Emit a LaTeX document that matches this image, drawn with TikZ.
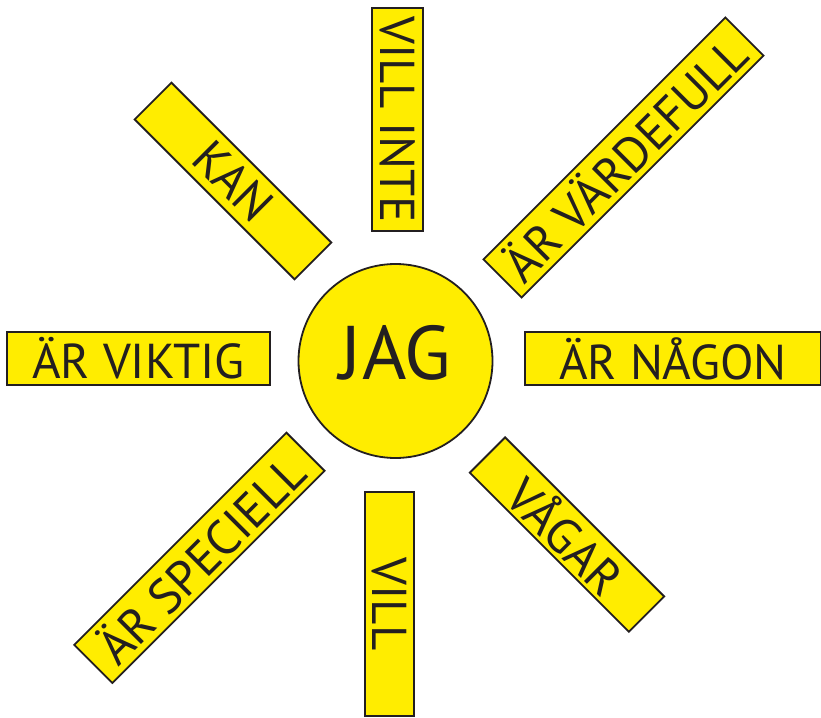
\documentclass[tikz,border=0pt]{standalone}
\usepackage{fontspec}
\setmainfont{PT Sans}
\usepackage{xcolor}
\usepackage{tikz}
\definecolor{solgul}{RGB}{255,237,0}
\definecolor{kontur}{RGB}{35,31,32}

\begin{document}
\begin{tikzpicture}[
  x=1pt, y=-1pt,
  sol/.style={
    circle, draw=kontur, fill=solgul, line width=1.8pt,
    minimum size=194pt, inner sep=0pt, text=kontur,
    font=\fontsize{76}{86}\selectfont
  },
  strale/.style={
    rectangle, draw=kontur, fill=solgul, line width=1.8pt,
    inner sep=0pt, minimum height=52pt, text=kontur,
    font=\fontsize{49}{56}\selectfont
  }
]
\useasboundingbox (0,0) rectangle (821,717);

% ── SOLEN ────────────────────────────────────────────────────

\node[sol, text depth=18pt] (jag) at (395.5,361) {JAG};

% ── STRÅLAR ──────────────────────────────────────────────────

\node[strale, minimum width=223pt, minimum height=51pt, rotate=-90] (villinte) at (397.5,119.5) {VILL INTE};
\node[strale, minimum width=226pt, rotate=-45] (kan) at (233,181) {KAN};
\node[strale, minimum width=342pt, minimum height=54pt, rotate=45] (vardefull) at (623.5,157.5) {ÄR VÄRDEFULL};
\node[strale, minimum width=263pt, minimum height=53pt] (viktig) at (138.5,358.5) {ÄR VIKTIG};
\node[strale, minimum width=296pt, minimum height=53pt] (nagon) at (673,358.5) {ÄR NÅGON};
\node[strale, minimum width=300pt, minimum height=54pt, rotate=45] (speciell) at (199.4,557.8) {ÄR SPECIELL};
\node[strale, minimum width=224pt, minimum height=49pt, rotate=-90] (vill) at (389.5,604) {VILL};
\node[strale, minimum width=225pt, minimum height=50pt, rotate=-45] (vagar) at (567,534.6) {VÅGAR};

\end{tikzpicture}
\end{document}
